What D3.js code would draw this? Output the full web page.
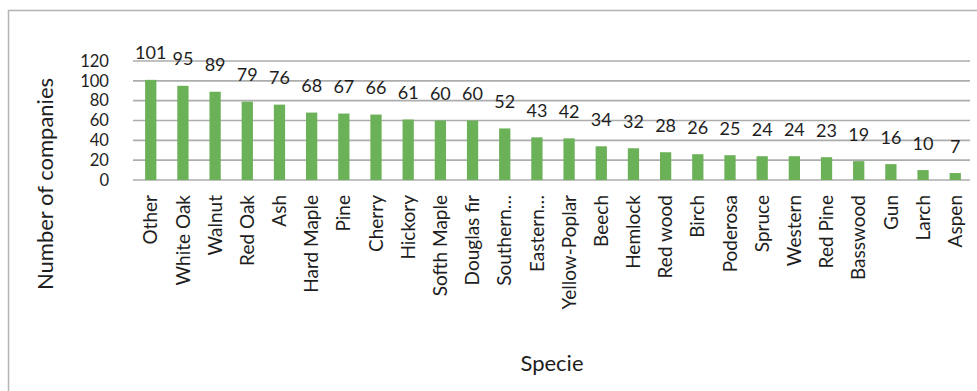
<!DOCTYPE html>
<html>
<head>
<meta charset="utf-8">
<script src="https://cdn.jsdelivr.net/npm/d3@7/dist/d3.min.js"></script>
<style>
  html, body { margin: 0; padding: 0; background: #fff; }
  svg { display: block; font-family: Lato, "Open Sans", sans-serif; }
</style>
</head>
<body>
<svg id="chart" width="977" height="391"></svg>
<script>
// Species and how many companies use each
const species = ["Other", "White Oak", "Walnut", "Red Oak", "Ash", "Hard Maple", "Pine", "Cherry",
  "Hickory", "Softh Maple", "Douglas fir", "Southern…", "Eastern…", "Yellow-Poplar", "Beech",
  "Hemlock", "Red wood", "Birch", "Poderosa", "Spruce", "Western", "Red Pine", "Basswood",
  "Gun", "Larch", "Aspen"];
const companies = [101, 95, 89, 79, 76, 68, 67, 66, 61, 60, 60, 52, 43, 42, 34, 32, 28, 26, 25,
  24, 24, 23, 19, 16, 10, 7];
const yTicks = [0, 20, 40, 60, 80, 100, 120];

const svg = d3.select("#chart");
const plot = { left: 133, right: 970, top: 61, bottom: 180 };
const ink = "#1e1e1e";

// Frame around the chart area
svg.append("path")
  .attr("d", "M8.5,391 V10.5 H977")
  .attr("fill", "none")
  .attr("stroke", "#b4b4b4")
  .attr("stroke-width", 1.5);

const x = d3.scaleBand()
  .domain(species)
  .range([plot.left + 1.5, plot.right + 1.5])
  .paddingInner(0.65)
  .paddingOuter(0.33);

const y = d3.scaleLinear()
  .domain([0, 120])
  .range([plot.bottom, plot.top]);

// Horizontal gridlines
svg.append("g")
  .selectAll("line")
  .data(yTicks)
  .join("line")
  .attr("x1", plot.left)
  .attr("x2", plot.right)
  .attr("y1", d => y(d))
  .attr("y2", d => y(d))
  .attr("stroke", "#adadad")
  .attr("stroke-width", 1.6);

// Y axis tick labels
const yAxis = d3.axisLeft(y).tickValues(yTicks).tickSize(0).tickPadding(0);
svg.append("g")
  .attr("transform", "translate(109,0)")
  .call(yAxis)
  .call(g => g.select(".domain").remove())
  .call(g => g.selectAll("text")
    .attr("font-size", 16.6)
    .attr("font-family", "Lato, sans-serif")
    .attr("fill", ink));

// Bars
svg.append("g")
  .selectAll("rect")
  .data(species)
  .join("rect")
  .attr("x", d => x(d))
  .attr("width", x.bandwidth())
  .attr("y", (d, i) => y(companies[i]))
  .attr("height", (d, i) => y(0) - y(companies[i]))
  .attr("fill", "#6ab157");

// Value labels above the bars
svg.append("g")
  .selectAll("text")
  .data(species)
  .join("text")
  .attr("x", d => x(d) + x.bandwidth() / 2)
  .attr("y", (d, i) => y(companies[i]) - 20.5)
  .attr("text-anchor", "middle")
  .attr("font-size", 18)
  .attr("fill", ink)
  .text((d, i) => companies[i]);

// X axis category labels, rotated
const xAxis = d3.axisBottom(x).tickSize(0).tickPadding(0);
svg.append("g")
  .attr("transform", `translate(0,${plot.bottom})`)
  .call(xAxis)
  .call(g => g.select(".domain").remove())
  .call(g => g.selectAll("text")
    .attr("font-size", 19)
    .attr("font-family", "Lato, sans-serif")
    .attr("fill", ink)
    .attr("text-anchor", "end")
    .attr("dy", "0.35em")
    .attr("transform", "translate(0,15) rotate(-90)")
    .attr("y", 0)
    .attr("x", 0));

// Axis titles
svg.append("text")
  .attr("transform", "translate(45,184) rotate(-90)")
  .attr("text-anchor", "middle")
  .attr("dy", "0.35em")
  .attr("font-size", 22)
  .attr("fill", ink)
  .text("Number of companies");

svg.append("text")
  .attr("x", 552)
  .attr("y", 363)
  .attr("text-anchor", "middle")
  .attr("dy", "0.35em")
  .attr("font-size", 22)
  .attr("fill", ink)
  .text("Specie");
</script>
</body>
</html>
